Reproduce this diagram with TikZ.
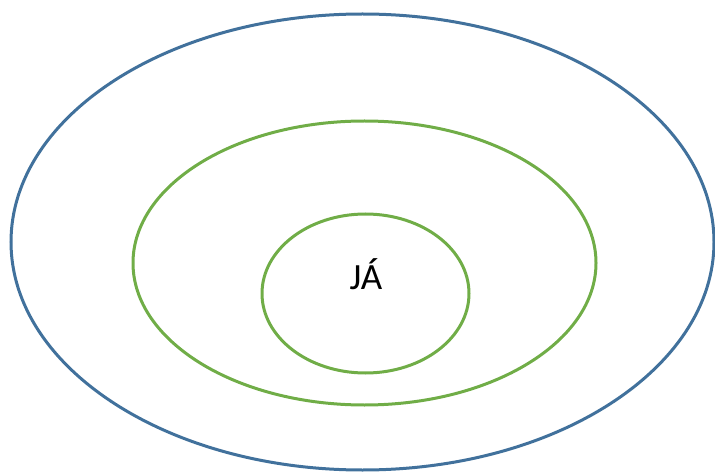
\documentclass[tikz,border=0pt]{standalone}
\usepackage{fontspec}
\setmainfont{Carlito}
\definecolor{outerblue}{HTML}{41719C}
\definecolor{ringgreen}{HTML}{70AD47}
\begin{document}
\begin{tikzpicture}[x=1pt,y=-1pt,
  ring/.style={line width=3pt}]
\useasboundingbox (0,0) rectangle (715,473);
\draw[ring,outerblue] (362.5,242) ellipse [x radius=351.5, y radius=228];
\draw[ring,ringgreen] (364.5,263) ellipse [x radius=231.5, y radius=142];
\draw[ring,ringgreen] (365.5,293.5) ellipse [x radius=103.5, y radius=79.5];
\node[anchor=base, inner sep=0pt, font=\fontsize{37}{40}\selectfont] (ja) at (366,289) {JÁ};
\end{tikzpicture}
\end{document}
